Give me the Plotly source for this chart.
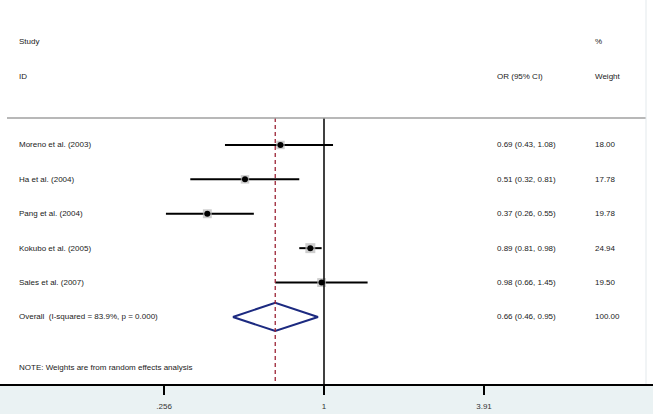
import numpy as np
import plotly.graph_objects as go

# forest plot data
studies = [
    "Moreno et al. (2003)",
    "Ha et al. (2004)",
    "Pang et al. (2004)",
    "Kokubo et al. (2005)",
    "Sales et al. (2007)",
]
or_vals = [0.69, 0.51, 0.37, 0.89, 0.98]
ci_lo = [0.43, 0.32, 0.26, 0.81, 0.66]
ci_hi = [1.08, 0.81, 0.55, 0.98, 1.45]
weights = [18.00, 17.78, 19.78, 24.94, 19.50]

overall_label = "Overall\u00a0\u00a0(I-squared = 83.9%, p = 0.000)"
overall_or, overall_lo, overall_hi = 0.66, 0.46, 0.95
overall_weight = 100.00

note = "NOTE: Weights are from random effects analysis"
tick_vals = [0.256, 1, 3.91]
tick_text = [".256", "1", "3.91"]

W, H = 653, 414
FONT = "Liberation Sans, Arial, sans-serif"
TXT = "#1a1a1a"

fig = go.Figure()

rows = list(range(len(studies)))
overall_row = len(studies)

# CI lines
cx, cy = [], []
for r, lo, hi in zip(rows, ci_lo, ci_hi):
    cx += [lo, hi, None]
    cy += [r, r, None]
fig.add_trace(go.Scatter(x=cx, y=cy, mode="lines",
                         line=dict(color="black", width=2), hoverinfo="skip"))

# weight boxes (area ~ weight)
fig.add_trace(go.Scatter(
    x=or_vals, y=rows, mode="markers",
    marker=dict(symbol="square", size=2.0 * np.sqrt(weights), color="#b8b8b8", line=dict(width=0)),
))
# point estimates
fig.add_trace(go.Scatter(
    x=or_vals, y=rows, mode="markers",
    marker=dict(symbol="circle", size=6, color="black"),
))

# overall diamond
hh = 0.41
fig.add_trace(go.Scatter(
    x=[overall_lo, overall_or, overall_hi, overall_or, overall_lo],
    y=[overall_row, overall_row - hh, overall_row, overall_row + hh, overall_row],
    mode="lines", line=dict(color="#1c2a80", width=2),
))

y_header_line = -0.785
y_axis = 6.95

# null line and overall effect line
fig.add_shape(type="line", xref="x", yref="y", x0=1, x1=1, y0=y_header_line, y1=y_axis,
              line=dict(color="black", width=1.5))
fig.add_shape(type="line", xref="x", yref="y", x0=overall_or, x1=overall_or,
              y0=y_header_line, y1=y_axis,
              line=dict(color="#9b2335", width=1.3, dash="4px,3px"))
# header separator
fig.add_shape(type="line", xref="paper", yref="y", x0=7 / W, x1=646 / W,
              y0=y_header_line, y1=y_header_line, line=dict(color="#a0a0a0", width=1.5))
# faint right border
fig.add_shape(type="line", xref="paper", yref="paper", x0=646 / W, x1=646 / W,
              y0=(H - 384) / H, y1=1, line=dict(color="#e3e9ec", width=1))

def txt(x_px, y, s):
    fig.add_annotation(x=x_px / W, xref="paper", y=y, yref="y", text=s, showarrow=False,
                       xanchor="left", yanchor="middle",
                       font=dict(family=FONT, size=8, color=TXT))

txt(17, -3, "Study")
txt(17, -2, "ID")
txt(495, -2, "OR (95% CI)")
txt(593, -3, "%")
txt(593, -2, "Weight")

for r, s, o, lo, hi, w in zip(rows, studies, or_vals, ci_lo, ci_hi, weights):
    txt(17, r, s)
    txt(495, r, f"{o:.2f} ({lo:.2f}, {hi:.2f})")
    txt(593, r, f"{w:.2f}")

txt(17, overall_row, overall_label)
txt(495, overall_row, f"{overall_or:.2f} ({overall_lo:.2f}, {overall_hi:.2f})")
txt(593, overall_row, f"{overall_weight:.2f}")
txt(17, 6.48, note)

x_px_per_dec = 160 / np.log10(3.91)
x_left = -324 / x_px_per_dec
x_right = (W - 324) / x_px_per_dec

fig.update_layout(
    width=W, height=H,
    margin=dict(l=0, r=0, t=0, b=0),
    paper_bgcolor="#eaf2f3",
    plot_bgcolor="white",
    showlegend=False,
    xaxis=dict(
        type="log", range=[x_left, x_right], domain=[0, 1],
        tickvals=tick_vals, ticktext=tick_text,
        ticks="outside", ticklen=9, tickwidth=2, tickcolor="black",
        ticklabelstandoff=4,
        showline=True, linecolor="black", linewidth=2,
        showgrid=False, zeroline=False,
        tickfont=dict(family=FONT, size=8, color="#333333"),
    ),
    yaxis=dict(
        range=[y_axis, -4.215], domain=[(H - 384) / H, 1],
        visible=False, showgrid=False, zeroline=False,
    ),
)

# drop the browser's default 8px body margin so the figure sits at (0, 0)
fig.write_html("out.html", config={"displayModeBar": False},
               post_script="document.body.style.margin = '0';")
